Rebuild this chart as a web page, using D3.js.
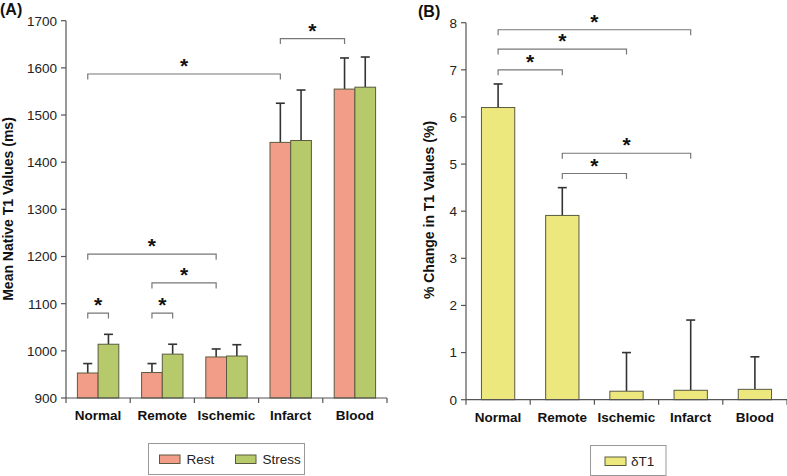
<!DOCTYPE html>
<html><head><meta charset="utf-8">
<script src="https://cdn.jsdelivr.net/npm/d3@7"></script>
<style>body{margin:0;background:#fff}svg{display:block}text{font-family:"Liberation Sans",Arial,sans-serif}</style>
</head><body>
<svg id="c" width="787" height="476"></svg>
<script>
const categories = ["Normal","Remote","Ischemic","Infarct","Blood"];
const restMean   = [953, 954, 987, 1442, 1555];
const restErr    = [973, 973, 1004, 1525, 1621];
const stressMean = [1014, 993, 989, 1446, 1559];
const stressErr  = [1035, 1014, 1013, 1553, 1623];
const deltaMean  = [6.2, 3.91, 0.18, 0.2, 0.22];
const deltaErr   = [6.7, 4.5, 1.0, 1.69, 0.91];
const ticksA = [900,1000,1100,1200,1300,1400,1500,1600,1700];
const ticksB = [0,1,2,3,4,5,6,7,8];
// significance brackets
const sigA = [ // [fromCat, fromSeries, toCat, toSeries, level]
  [0,0,0,1,1080],[1,0,1,1,1080],[1,0,2,0,1144],[0,0,2,0,1205],[0,0,3,0,1587],[3,0,4,0,1662]
];
const sigB = [[1,2,4.8],[1,3,5.23],[0,1,7.0],[0,2,7.44],[0,3,7.85]]; // [fromCat, toCat, level]

const colRest = "#F29D88", colStress = "#B6CA6B", colDelta = "#EDE87D";
const svg = d3.select("#c");

// ---------- Panel A ----------
const xA = d3.scaleBand().domain(categories).range([66,387]).paddingInner(0).paddingOuter(0);
const yA = d3.scaleLinear().domain([900,1700]).range([398,20.7]);
const barW = 20.7;
const gA = svg.append("g");
function barX(cat, s){ return xA(cat) + xA.bandwidth()/2 - barW + s*barW; }

function drawYAxis(g, x0, y, ticks){
  g.append("line").attr("x1",x0).attr("x2",x0).attr("y1",y.range()[1]).attr("y2",y.range()[0]).attr("stroke","#555").attr("stroke-width",1.2);
  ticks.forEach(t=>{
    g.append("line").attr("x1",x0-5).attr("x2",x0).attr("y1",y(t)).attr("y2",y(t)).attr("stroke","#555").attr("stroke-width",1.2);
    g.append("text").attr("x",x0-9).attr("y",y(t)).attr("dy","0.36em").attr("text-anchor","end")
      .attr("font-size",13.5).attr("fill","#222").text(t);
  });
}
function drawXAxis(g, x, y0){
  const r = x.range();
  g.append("line").attr("x1",r[0]).attr("x2",r[1]).attr("y1",y0).attr("y2",y0).attr("stroke","#555").attr("stroke-width",1.2);
  const bounds = categories.map(c=>x(c)).concat([r[1]]);
  bounds.forEach(b=>g.append("line").attr("x1",b).attr("x2",b).attr("y1",y0).attr("y2",y0+5).attr("stroke","#555").attr("stroke-width",1.2));
  categories.forEach(c=>g.append("text").attr("x",x(c)+x.bandwidth()/2).attr("y",y0+22)
     .attr("text-anchor","middle").attr("font-size",13.5).attr("font-weight","bold").attr("fill","#111").text(c));
}
function errBar(g, cx, y1, y2){
  g.append("line").attr("x1",cx).attr("x2",cx).attr("y1",y1).attr("y2",y2).attr("stroke","#333").attr("stroke-width",1.6);
  g.append("line").attr("x1",cx-4.5).attr("x2",cx+4.5).attr("y1",y2).attr("y2",y2).attr("stroke","#333").attr("stroke-width",1.6);
}
function bracket(g, xa, xb, yy){
  g.append("path").attr("d",`M${xa},${yy+5.5}V${yy}H${xb}V${yy+5.5}`).attr("fill","none").attr("stroke","#777").attr("stroke-width",1.2);
  g.append("text").attr("x",(xa+xb)/2).attr("y",yy-1).attr("text-anchor","middle").attr("font-size",21).attr("font-weight","bold").attr("fill","#111").text("*");
}

categories.forEach((c,i)=>{
  [[restMean,restErr,colRest],[stressMean,stressErr,colStress]].forEach(([m,e,col],s)=>{
    const x0 = barX(c,s);
    errBar(gA, x0+barW/2, yA(m[i]), yA(e[i]));
    gA.append("rect").attr("x",x0).attr("y",yA(m[i])).attr("width",barW).attr("height",yA(900)-yA(m[i]))
      .attr("fill",col).attr("stroke","#5a5a40").attr("stroke-width",1);
  });
});
drawYAxis(gA, 66, yA, ticksA);
drawXAxis(gA, xA, 398);
sigA.forEach(([c1,s1,c2,s2,lv])=>{
  bracket(gA, barX(categories[c1],s1)+barW/2, barX(categories[c2],s2)+barW/2, yA(lv));
});
gA.append("text").attr("transform","translate(13,209) rotate(-90)").attr("text-anchor","middle")
  .attr("font-size",14).attr("font-weight","bold").attr("fill","#111").text("Mean Native T1 Values (ms)");
gA.append("text").attr("x",0).attr("y",15).attr("font-size",16).attr("font-weight","bold").attr("fill","#111").text("(A)");
// legend A
gA.append("rect").attr("x",148.5).attr("y",443.5).attr("width",156).attr("height",31).attr("fill","#fff").attr("stroke","#999");
[["Rest",colRest,159.5],["Stress",colStress,235.5]].forEach(([t,col,x])=>{
  gA.append("rect").attr("x",x).attr("y",455).attr("width",20.5).attr("height",8.5).attr("fill",col).attr("stroke","#5a5a40");
  gA.append("text").attr("x",x+27).attr("y",464).attr("font-size",13.5).attr("fill","#222").text(t);
});

// ---------- Panel B ----------
const xB = d3.scaleBand().domain(categories).range([466,787]);
const yB = d3.scaleLinear().domain([0,8]).range([399.7,22.7]);
const gB = svg.append("g");
const bwB = 33.3;
categories.forEach((c,i)=>{
  const cx = xB(c)+xB.bandwidth()/2;
  errBar(gB, cx, yB(deltaMean[i]), yB(deltaErr[i]));
  gB.append("rect").attr("x",cx-bwB/2).attr("y",yB(deltaMean[i])).attr("width",bwB).attr("height",yB(0)-yB(deltaMean[i]))
    .attr("fill",colDelta).attr("stroke","#5a5a40").attr("stroke-width",1);
});
drawYAxis(gB, 466, yB, ticksB);
drawXAxis(gB, xB, 399.7);
sigB.forEach(([a,b,lv])=>{
  bracket(gB, xB(categories[a])+xB.bandwidth()/2, xB(categories[b])+xB.bandwidth()/2, yB(lv));
});
gB.append("text").attr("transform","translate(434,210) rotate(-90)").attr("text-anchor","middle")
  .attr("font-size",14).attr("font-weight","bold").attr("fill","#111").text("% Change in T1 Values (%)");
gB.append("text").attr("x",418).attr("y",17).attr("font-size",16).attr("font-weight","bold").attr("fill","#111").text("(B)");
gB.append("rect").attr("x",590.5).attr("y",445.5).attr("width",75.5).attr("height",30).attr("fill","#fff").attr("stroke","#999");
gB.append("rect").attr("x",605).attr("y",457).attr("width",21).attr("height",8.5).attr("fill",colDelta).attr("stroke","#5a5a40");
gB.append("text").attr("x",631).attr("y",466).attr("font-size",13.5).attr("fill","#222").text("δT1");
</script>
</body></html>
